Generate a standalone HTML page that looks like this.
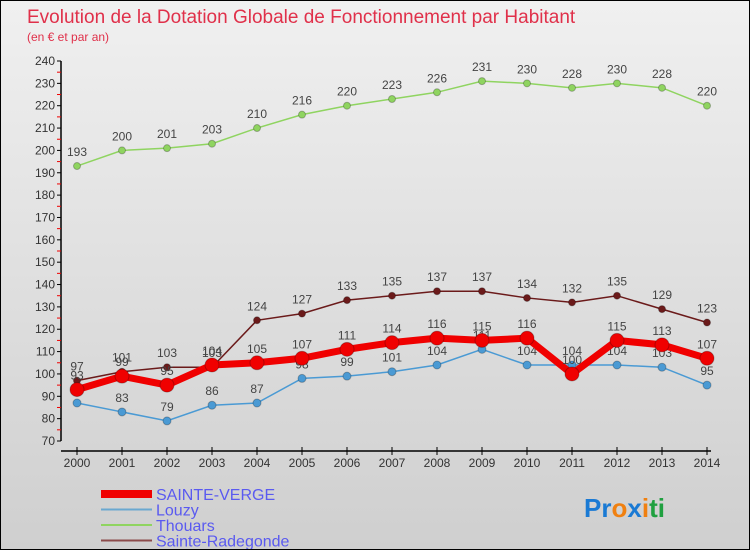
<!DOCTYPE html>
<html><head><meta charset="utf-8"><style>
body{margin:0}
#c{width:750px;height:550px;position:relative;background:linear-gradient(#f0f0f0,#cfcfcf);font-family:"Liberation Sans",sans-serif;overflow:hidden;box-sizing:border-box;border:1px solid #000}
</style></head><body>
<div id="c">
<svg id="s" width="750" height="550" style="position:absolute;left:0;top:0">
<text x="26" y="22" font-size="19" fill="#e0304a">Evolution de la Dotation Globale de Fonctionnement par Habitant</text>
<text x="26" y="40" font-size="12" fill="#e0304a">(en € et par an)</text>
</svg>
</div>
<script>
const years=["2000","2001","2002","2003","2004","2005","2006","2007","2008","2009","2010","2011","2012","2013","2014"];
const yTicks=[70,80,90,100,110,120,130,140,150,160,170,180,190,200,210,220,230,240];
const sainteVerge=[93,99,95,104,105,107,111,114,116,115,116,100,115,113,107];
const louzy=[87,83,79,86,87,98,99,101,104,111,104,104,104,103,95];
const thouars=[193,200,201,203,210,216,220,223,226,231,230,228,230,228,220];
const sainteRadegonde=[97,101,103,103,124,127,133,135,137,137,134,132,135,129,123];
const s=document.getElementById('s');const NS='http://www.w3.org/2000/svg';
function X(i){return 76+i*45;}
function Y(v){return 440-(v-70)*(380/170);}
function mk(t,a,p){const e=document.createElementNS(NS,t);for(const k in a)e.setAttribute(k,a[k]);(p||s).appendChild(e);return e;}
let ax=mk('line',{x1:60,y1:Y(240),x2:60,y2:Y(70),stroke:'#000','stroke-width':1.5});


let xa=mk('line',{x1:60,y1:450,x2:710,y2:450,stroke:'#000','stroke-width':1.5});


yTicks.forEach(v=>{mk('line',{x1:56,y1:Y(v),x2:60,y2:Y(v),stroke:'#000'});
 if(v<240)mk('line',{x1:56,y1:Y(v+5),x2:60,y2:Y(v+5),stroke:'#e00'});
 const t=mk('text',{x:54,y:Y(v)+4,'font-size':12,fill:'#333','text-anchor':'end'});t.textContent=v;
 
 });
years.forEach((y,i)=>{mk('line',{x1:X(i),y1:446,x2:X(i),y2:454,stroke:'#000'});
 const t=mk('text',{x:X(i),y:466,'font-size':12,fill:'#333','text-anchor':'middle'});t.textContent=y;
 
 });
function series(d,col,w,r,name){const g=mk('g',{});
 
 
 mk('polyline',{points:d.map((v,i)=>X(i)+','+Y(v)).join(' '),fill:'none',stroke:col,'stroke-width':w},g);
 d.forEach((v,i)=>{const c=mk('circle',{cx:X(i),cy:Y(v),r:r,fill:col,stroke:'rgba(0,0,0,0.25)'},g);
  
  
  const t=mk('text',{x:X(i),y:Y(v)-10,'font-size':12,fill:'#444','text-anchor':'middle'},g);t.textContent=v;});}
series(thouars,'#8fd460',1.5,3.5,'thouars-series');
series(sainteRadegonde,'#6b1a1a',1.5,3.5,'sainte-radegonde-series');
series(louzy,'#4a9ad4',1.5,4,'louzy-series');
series(sainteVerge,'#f00000',7,7,'sainte-verge-series');
const leg=[['SAINTE-VERGE','#f00000',8],['Louzy','#6aa8d0',2],['Thouars','#8fd460',2],['Sainte-Radegonde','#8b4a4a',2]];
leg.forEach((l,i)=>{const y=493+i*15.5;const g=mk('g',{});
 
 
 mk('line',{x1:100,y1:y,x2:151,y2:y,stroke:l[1],'stroke-width':l[2]},g);
 const t=mk('text',{x:155,y:y+6,'font-size':16,fill:'#5a5af0'},g);t.textContent=l[0];});
const lg=mk('text',{x:583,y:516,'font-size':26,'font-weight':'bold'});


[['Pr','#1a7ad4'],['o','#f08010'],['x','#1a7ad4'],['i','#f08010'],['ti','#20a040']].forEach(p=>{const ts=mk('tspan',{fill:p[1]},lg);ts.textContent=p[0];});
</script>
</body></html>
